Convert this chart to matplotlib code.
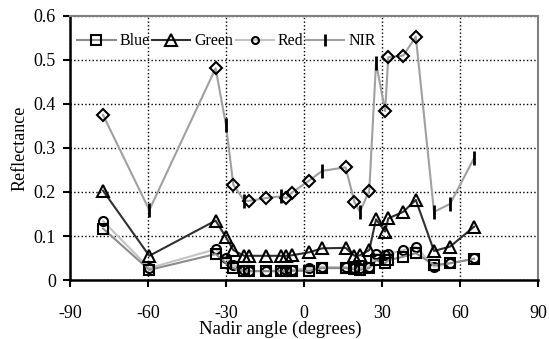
import numpy as np
import matplotlib
matplotlib.use('Agg')
import matplotlib.pyplot as plt
from matplotlib.lines import Line2D

plt.rcParams['font.family'] = ['Liberation Serif', 'DejaVu Serif']
plt.rcParams['axes.unicode_minus'] = False

# nadir angles (degrees) shared by all bands
angle = [-77.3, -59.5, -34, -30, -27.2, -23, -21, -14.7, -9, -6.8, -4.8, 2, 7,
         16, 19.4, 21.5, 25.1, 27.7, 31.2, 32.4, 38.2, 43, 50, 56.2, 65.4]

blue = [0.117, 0.023, 0.059, 0.039, 0.027, 0.020, 0.020, 0.020, 0.020, 0.020, 0.021,
        0.021, 0.027, 0.027, 0.024, 0.023, 0.027, 0.045, 0.038, 0.045, 0.053, 0.061,
        0.034, 0.038, 0.048]
green = [0.203, 0.055, 0.135, 0.097, 0.068, 0.055, 0.055, 0.055, 0.055, 0.055, 0.056,
         0.063, 0.072, 0.073, 0.055, 0.056, 0.068, 0.138, 0.110, 0.140, 0.155, 0.182,
         0.066, 0.076, 0.121]
red = [0.134, 0.027, 0.070, 0.049, 0.034, 0.022, 0.021, 0.021, 0.021, 0.022, 0.023,
       0.027, 0.030, 0.029, 0.028, 0.028, 0.030, 0.059, 0.057, 0.059, 0.068, 0.076,
       0.030, 0.038, 0.049]
nir = [0.375, 0.159, 0.481, 0.352, 0.217, 0.180, 0.180, 0.186, 0.190, 0.186, 0.198,
       0.226, 0.248, 0.256, 0.177, 0.155, 0.203, 0.494, 0.384, 0.506, 0.510, 0.553,
       0.155, 0.173, 0.277]
# NIR points drawn as diamonds (True) or bars (False)
nir_diamond = [True, False, True, False, True, False, True, True, False, True, True,
               True, False, True, True, False, True, False, True, True, True, True,
               False, False, False]

x = np.array(angle)
nir = np.array(nir)
dmask = np.array(nir_diamond)

fig = plt.figure(figsize=(5.49, 3.39), dpi=100)
ax = fig.add_axes([0.1275, 0.174, 0.8525, 0.779])

mk = dict(markerfacecolor='none', markeredgecolor='black', markeredgewidth=1.5)
ax.plot(x, nir, color='#a0a0a0', lw=1.5, zorder=2)
ax.plot(x[dmask], nir[dmask], ls='none', marker='D', ms=6, zorder=3, **mk)
ax.plot(x[~dmask], nir[~dmask], ls='none', marker='|', ms=10, markeredgewidth=2,
        color='black', zorder=3)
ax.plot(x, red, color='#c4c4c4', lw=1.5, marker='o', ms=6.5, zorder=4, **mk)
ax.plot(x, blue, color='#8c8c8c', lw=1.5, marker='s', ms=7, zorder=4, **mk)
ax.plot(x, green, color='#303030', lw=1.5, marker='^', ms=8, zorder=5, **mk)

handles = [
    Line2D([], [], color='#8c8c8c', lw=1.5, marker='s', ms=7, **mk),
    Line2D([], [], color='#303030', lw=1.5, marker='^', ms=8, **mk),
    Line2D([], [], color='#c4c4c4', lw=1.5, marker='o', ms=5, **mk),
    Line2D([], [], color='#a0a0a0', lw=1.5, marker='|', ms=9, markeredgewidth=2,
           markeredgecolor='black'),
]
ax.legend(handles, ['Blue', 'Green', 'Red', 'NIR'], loc='upper left', ncol=4,
          frameon=False, fontsize=11.5, handlelength=2.4, handletextpad=0.25,
          columnspacing=0.15, bbox_to_anchor=(-0.005, 0.97), borderaxespad=0.2)

ax.set_xlim(-90, 90)
ax.set_ylim(0, 0.6)
ax.set_xticks([-90, -60, -30, 0, 30, 60, 90])
ax.set_yticks([0, 0.1, 0.2, 0.3, 0.4, 0.5, 0.6])
ax.set_yticklabels(['0', '0.1', '0.2', '0.3', '0.4', '0.5', '0.6'])
ax.grid(True, color='black', ls=':', lw=1)
ax.set_axisbelow(True)

for s in ['left', 'bottom']:
    ax.spines[s].set_linewidth(1.8)
    ax.spines[s].set_color('black')
for s in ['top', 'right']:
    ax.spines[s].set_linewidth(1.5)
    ax.spines[s].set_color('#808080')

ax.tick_params(direction='out', length=5, width=1.5, labelsize=13)
ax.tick_params(axis='x', pad=13)
ax.tick_params(axis='y', pad=5)
ax.set_xlabel('Nadir angle (degrees)', fontsize=13.5)
ax.xaxis.set_label_coords(0.45, -0.155)
ax.set_ylabel('Reflectance', fontsize=13, labelpad=4)

fig.savefig('out.png', dpi=100)
